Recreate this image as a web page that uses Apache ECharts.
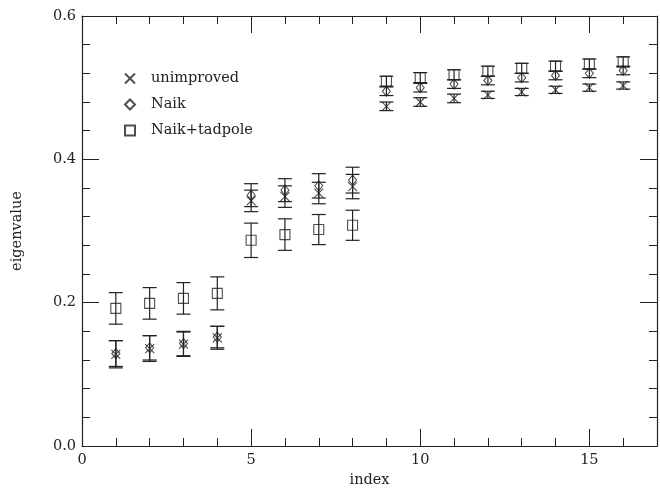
<!DOCTYPE html>
<html>
<head>
<meta charset="utf-8">
<script src="https://cdn.jsdelivr.net/npm/echarts@6/dist/echarts.min.js"></script>
<style>
  html, body { margin: 0; padding: 0; background: #fff; overflow: hidden; }
  #chart { width: 660px; height: 493px; }
</style>
</head>
<body>
<div id="chart"></div>
<script>
// 数据：index 1..16，各方法的本征值及误差
const indices = [1, 2, 3, 4, 5, 6, 7, 8, 9, 10, 11, 12, 13, 14, 15, 16]

const unimproved = [0.128, 0.136, 0.142, 0.151, 0.342, 0.348, 0.353, 0.362,
  0.474, 0.480, 0.485, 0.490, 0.494, 0.497, 0.500, 0.503]
const unimprovedErr = [0.019, 0.018, 0.017, 0.016, 0.015, 0.015, 0.015, 0.017,
  0.006, 0.006, 0.006, 0.005, 0.005, 0.005, 0.005, 0.005]

const naik = [0.129, 0.137, 0.143, 0.152, 0.350, 0.357, 0.363, 0.371,
  0.495, 0.500, 0.505, 0.510, 0.514, 0.517, 0.520, 0.524]
const naikErr = [0.018, 0.017, 0.017, 0.015, 0.016, 0.016, 0.017, 0.018,
  0.006, 0.006, 0.006, 0.006, 0.006, 0.006, 0.006, 0.006]

const tadpole = [0.192, 0.199, 0.206, 0.213, 0.287, 0.295, 0.302, 0.308,
  0.509, 0.514, 0.518, 0.523, 0.527, 0.530, 0.533, 0.536]
const tadpoleErr = [0.022, 0.022, 0.022, 0.023, 0.024, 0.022, 0.021, 0.021,
  0.007, 0.007, 0.007, 0.007, 0.007, 0.007, 0.007, 0.007]

const xTicks = [0, 5, 10, 15]
const yTicks = [0.0, 0.2, 0.4, 0.6]

const ink = '#222'
const font = '"DejaVu Serif", "Liberation Serif", serif'

const crossPath = 'path://M0,0L10,10M10,0L0,10'
const diamondPath = 'path://M5,0L10,5L5,10L0,5Z'
const squarePath = 'path://M0,0L10,0L10,10L0,10Z'

function points(vals) {
  return indices.map((x, i) => [x, vals[i]])
}

function withErr(vals, errs) {
  return indices.map((x, i) => [x, vals[i], errs[i]])
}

// 误差棒
function errorBar(name, vals, errs) {
  return {
    name: name + ' err',
    type: 'custom',
    data: withErr(vals, errs),
    z: 2,
    renderItem: function (params, api) {
      const x = api.value(0)
      const y = api.value(1)
      const e = api.value(2)
      const top = api.coord([x, y + e])
      const bot = api.coord([x, y - e])
      const hw = 7
      const style = { stroke: ink, lineWidth: 1.2 }
      return {
        type: 'group',
        children: [
          { type: 'line', shape: { x1: top[0], y1: top[1], x2: bot[0], y2: bot[1] }, style },
          { type: 'line', shape: { x1: top[0] - hw, y1: top[1], x2: top[0] + hw, y2: top[1] }, style },
          { type: 'line', shape: { x1: bot[0] - hw, y1: bot[1], x2: bot[0] + hw, y2: bot[1] }, style }
        ]
      }
    }
  }
}

function markers(name, vals, symbol, size) {
  return {
    name: name,
    type: 'scatter',
    data: points(vals),
    symbol: symbol,
    symbolSize: size,
    z: 3,
    itemStyle: { color: 'transparent', borderColor: ink, borderWidth: 1.1 }
  }
}

function axisBase(extra) {
  return Object.assign({
    axisLine: { show: true, onZero: false, lineStyle: { color: ink, width: 1.2 } },
    axisTick: { show: true, inside: true, length: 17, lineStyle: { color: ink, width: 1 } },
    minorTick: { show: true, splitNumber: 5, length: 8, lineStyle: { color: ink, width: 1 } },
    splitLine: { show: false }
  }, extra)
}

const chart = echarts.init(document.getElementById('chart'), null, { renderer: 'canvas' })

chart.setOption({
  backgroundColor: '#fff',
  animation: false,
  grid: { left: 82, top: 16, width: 577, height: 440 },
  legend: {
    orient: 'vertical',
    left: 119,
    top: 66,
    itemWidth: 10,
    itemHeight: 10,
    itemGap: 11,
    data: ['unimproved', 'Naik', 'Naik+tadpole'],
    textStyle: { fontFamily: font, fontSize: 14.5, color: ink, padding: [0, 0, 0, 11] }
  },
  xAxis: [
    axisBase({
      type: 'value', position: 'bottom', min: 0, max: 17, interval: 5,
      name: 'index', nameLocation: 'middle', nameGap: 27,
      nameTextStyle: { fontFamily: font, fontSize: 14.5, color: ink },
      axisLabel: {
        fontFamily: font, fontSize: 14.5, color: ink, margin: 7,
        formatter: v => (xTicks.indexOf(v) >= 0 ? String(v) : '')
      }
    }),
    axisBase({
      type: 'value', position: 'top', min: 0, max: 17, interval: 5,
      axisLabel: { show: false }
    })
  ],
  yAxis: [
    axisBase({
      type: 'value', position: 'left', min: 0, max: 0.6, interval: 0.2,
      name: 'eigenvalue', nameLocation: 'middle', nameGap: 57, nameRotate: 90,
      nameTextStyle: { fontFamily: font, fontSize: 14.5, color: ink },
      axisLabel: {
        fontFamily: font, fontSize: 14.5, color: ink, margin: 6,
        formatter: v => yTicks.some(t => Math.abs(t - v) < 1e-9) ? v.toFixed(1) : ''
      }
    }),
    axisBase({
      type: 'value', position: 'right', min: 0, max: 0.6, interval: 0.2,
      axisLabel: { show: false }
    })
  ],
  series: [
    errorBar('unimproved', unimproved, unimprovedErr),
    errorBar('Naik', naik, naikErr),
    errorBar('Naik+tadpole', tadpole, tadpoleErr),
    markers('unimproved', unimproved, crossPath, 9),
    markers('Naik', naik, diamondPath, [8, 10]),
    markers('Naik+tadpole', tadpole, squarePath, 10)
  ]
})
</script>
</body>
</html>
